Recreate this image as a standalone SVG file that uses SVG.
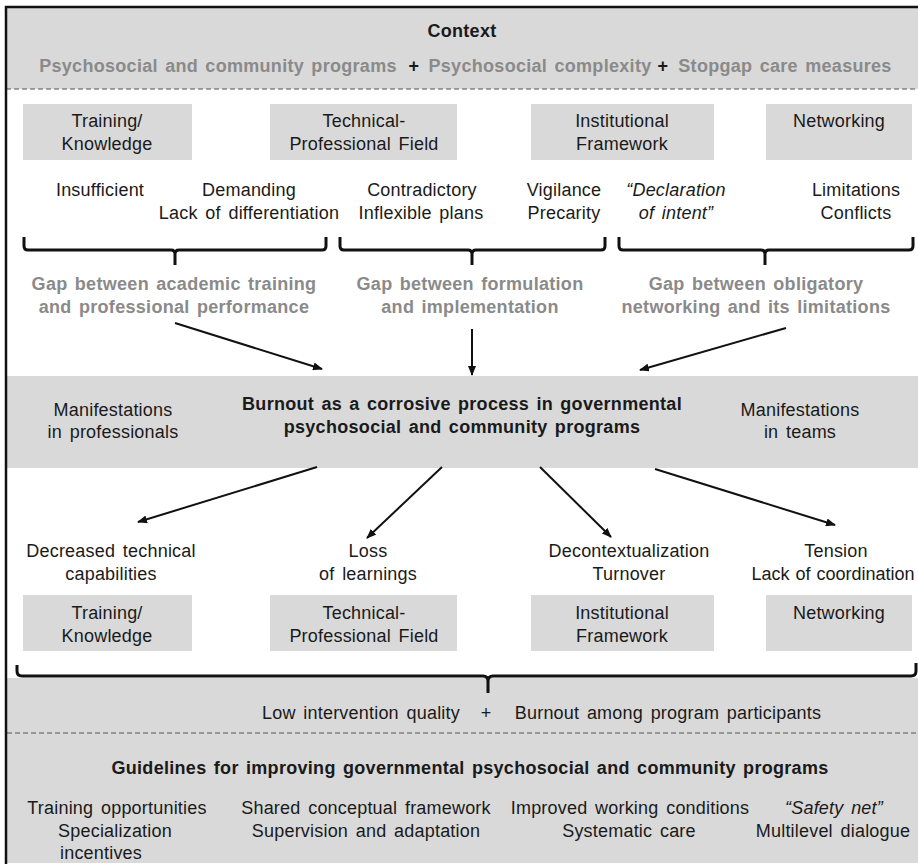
<svg xmlns="http://www.w3.org/2000/svg" width="918" height="864" viewBox="0 0 918 864">
<defs>
<style>
text{font-family:"Liberation Sans",Arial,sans-serif;font-size:18px;fill:#1a1a1a;text-anchor:middle;letter-spacing:0.2px;word-spacing:2.5px}
.b{font-weight:bold;letter-spacing:0.3px;word-spacing:2px}
.g{fill:#8a8a8a;font-weight:bold;letter-spacing:0.3px;word-spacing:2px}
.i{font-style:italic}
.tight{letter-spacing:0px;word-spacing:1px}
.band{fill:#d9d9d9}
.box{fill:#d9d9d9}
.dash{stroke:#555;stroke-width:1.2;stroke-dasharray:5 3;fill:none}
.brace{stroke:#111;stroke-width:3;fill:none}
.arr{stroke:#111;stroke-width:2;fill:none;marker-end:url(#ah)}
</style>
<marker id="ah" viewBox="0 0 10 8" refX="9" refY="4" markerWidth="10" markerHeight="8" markerUnits="userSpaceOnUse" orient="auto">
<path d="M0,0 L10,4 L0,8 z" fill="#111"/>
</marker>
</defs>
<rect width="918" height="864" fill="#fff"/>

<g id="context">
<rect class="band" x="6" y="7" width="912" height="82"/>
<text class="b" x="462" y="37">Context</text>
<text class="g" x="218" y="72">Psychosocial and community programs</text>
<text class="b" x="414" y="72">+</text>
<text class="g" x="540" y="72">Psychosocial complexity</text>
<text class="b" x="663" y="72">+</text>
<text class="g" x="785" y="72">Stopgap care measures</text>
<line class="dash" x1="6" y1="89" x2="918" y2="89"/>
</g>

<g id="top-training">
<rect class="box" x="23" y="104" width="169" height="56"/>
<text x="107" y="127">Training/</text>
<text x="107" y="150">Knowledge</text>
</g>
<g id="top-technical">
<rect class="box" x="270" y="104" width="187" height="56"/>
<text x="364" y="127">Technical-</text>
<text x="364" y="150">Professional Field</text>
</g>
<g id="top-institutional">
<rect class="box" x="531" y="104" width="183" height="56"/>
<text x="622" y="127">Institutional</text>
<text x="622" y="150">Framework</text>
</g>
<g id="top-networking">
<rect class="box" x="766" y="104" width="146" height="56"/>
<text x="839" y="127">Networking</text>
</g>

<g id="items">
<text x="100" y="196">Insufficient</text>
<text x="249" y="196">Demanding</text>
<text x="249" y="219">Lack of differentiation</text>
<text x="422" y="196">Contradictory</text>
<text x="421" y="219">Inflexible plans</text>
<text x="564" y="196">Vigilance</text>
<text x="564" y="219">Precarity</text>
<text class="i" x="676" y="196">“Declaration</text>
<text class="i" x="676" y="219">of intent”</text>
<text x="856" y="196">Limitations</text>
<text x="856" y="219">Conflicts</text>
</g>

<g id="braces">
<path class="brace" d="M24,237 V246 Q24,250 28,250 H171 Q175,250 175,254 V265 M175,254 Q175,250 179,250 H322 Q326,250 326,246 V237"/>
<path class="brace" d="M340,237 V246 Q340,250 344,250 H468 Q472,250 472,254 V265 M472,254 Q472,250 476,250 H601 Q605,250 605,246 V237"/>
<path class="brace" d="M619,237 V246 Q619,250 623,250 H761 Q765,250 765,254 V265 M765,254 Q765,250 769,250 H909 Q913,250 913,246 V237"/>
</g>

<g id="gaps">
<text class="g" x="174" y="290">Gap between academic training</text>
<text class="g" x="174" y="313">and professional performance</text>
<text class="g" x="470" y="290">Gap between formulation</text>
<text class="g" x="470" y="313">and implementation</text>
<text class="g" x="756" y="290">Gap between obligatory</text>
<text class="g" x="756" y="313">networking and its limitations</text>
</g>

<g id="burnout">
<rect class="band" x="7" y="376" width="911" height="92"/>
<text x="113" y="416">Manifestations</text>
<text x="113" y="438">in professionals</text>
<text class="b" x="462" y="410">Burnout as a corrosive process in governmental</text>
<text class="b" x="462" y="433">psychosocial and community programs</text>
<text x="800" y="416">Manifestations</text>
<text x="800" y="438">in teams</text>
</g>

<g id="effects">
<text x="111" y="557">Decreased technical</text>
<text x="111" y="580">capabilities</text>
<text x="368" y="557">Loss</text>
<text x="368" y="580">of learnings</text>
<text x="629" y="557">Decontextualization</text>
<text x="629" y="580">Turnover</text>
<text x="836" y="557">Tension</text>
<text class="tight" x="833" y="580">Lack of coordination</text>
</g>

<g id="bottom-training">
<rect class="box" x="23" y="595" width="169" height="56"/>
<text x="107" y="619">Training/</text>
<text x="107" y="642">Knowledge</text>
</g>
<g id="bottom-technical">
<rect class="box" x="270" y="595" width="187" height="56"/>
<text x="364" y="619">Technical-</text>
<text x="364" y="642">Professional Field</text>
</g>
<g id="bottom-institutional">
<rect class="box" x="531" y="595" width="183" height="56"/>
<text x="622" y="619">Institutional</text>
<text x="622" y="642">Framework</text>
</g>
<g id="bottom-networking">
<rect class="box" x="766" y="595" width="146" height="56"/>
<text x="839" y="619">Networking</text>
</g>

<g id="outcome">
<rect class="band" x="7" y="678" width="911" height="185"/>
<text x="361" y="719">Low intervention quality</text>
<text x="486" y="719">+</text>
<text x="668" y="719">Burnout among program participants</text>
<line class="dash" x1="7" y1="733" x2="918" y2="733"/>
</g>

<g id="guidelines">
<text class="b" x="470" y="774">Guidelines for improving governmental psychosocial and community programs</text>
<text x="117" y="814">Training opportunities</text>
<text x="115" y="837">Specialization</text>
<text x="101" y="859">incentives</text>
<text x="366" y="814">Shared conceptual framework</text>
<text x="366" y="837">Supervision and adaptation</text>
<text x="630" y="814">Improved working conditions</text>
<text x="629" y="837">Systematic care</text>
<text class="i" x="834" y="814">“Safety net”</text>
<text x="833" y="837">Multilevel dialogue</text>
</g>

<g id="big-brace">
<path class="brace" d="M17,665 V671 Q17,676 22,676 H483 Q488,676 488,681 V693 M488,681 Q488,676 493,676 H911 Q916,676 916,671 V663"/>
</g>

<g id="connectors">
<line class="arr" x1="175" y1="323" x2="322" y2="369"/>
<line class="arr" x1="472" y1="329" x2="472" y2="375"/>
<line class="arr" x1="786" y1="328" x2="640" y2="370"/>
<line class="arr" x1="317" y1="467" x2="138" y2="522"/>
<line class="arr" x1="442" y1="467" x2="367" y2="538"/>
<line class="arr" x1="540" y1="467" x2="611" y2="537"/>
<line class="arr" x1="655" y1="469" x2="835" y2="525"/>
</g>

<g id="frame">
<path d="M6,864 V7 H918" fill="none" stroke="#111" stroke-width="2.5"/>
</g>
</svg>
